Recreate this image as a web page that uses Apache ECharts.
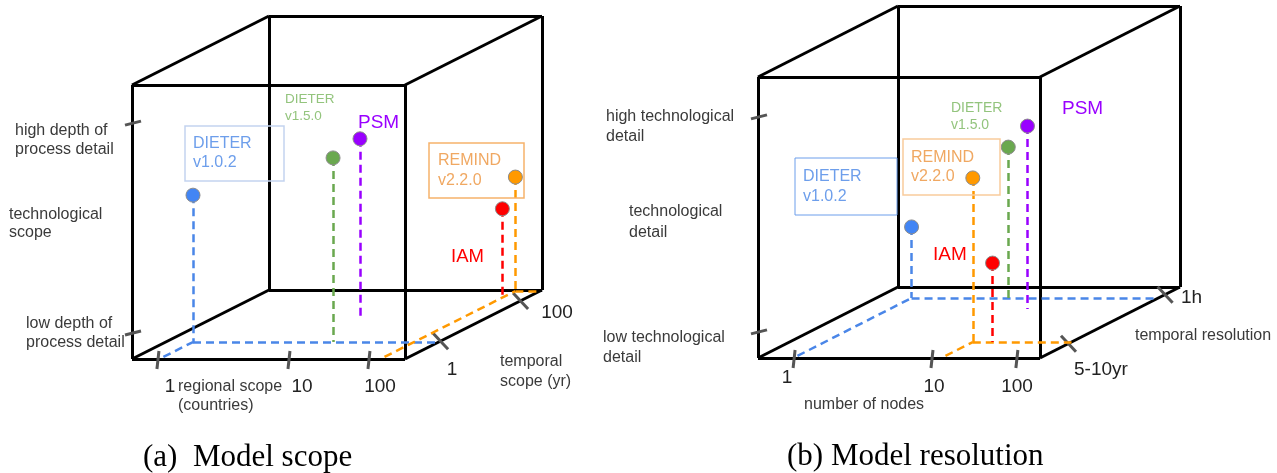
<!DOCTYPE html>
<html><head><meta charset="utf-8">
<script src="https://cdn.jsdelivr.net/npm/echarts@6/dist/echarts.min.js"></script>
<style>html,body{margin:0;padding:0;background:#fff}#c{width:1277px;height:473px}</style>
</head><body><div id="c"></div>
<script>
// ---------------- DATA ----------------
const modelNames = ['DIETER v1.0.2', 'DIETER v1.5.0', 'PSM', 'REMIND v2.2.0', 'IAM'];

// (a) Model scope — positions as fractions of the cube side
const scopeRegional = [0.10, 0.613, 0.529, 0.91, 0.89];   // regional scope (countries)
const scopeTemporal = [0.246, 0.246, 0.61, 0.985, 0.93];  // temporal scope (yr)
const scopeDetail   = [0.536, 0.672, 0.65, 0.416, 0.314]; // depth of process detail
const scopeFloorTrace = [true, false, false, true, false];
const scopeRegionalTickLabels = ['1', '10', '100'];
const scopeRegionalTickPos = [0.095, 0.575, 0.868];
const scopeTemporalTickLabels = ['1', '100'];
const scopeTemporalTickPos = [0.256, 0.84];
const scopeDetailTickPos = [0.095, 0.861];

// (b) Model resolution
const resNodes    = [0.125, 0.468, 0.613, 0.65, 0.72];    // number of nodes
const resTemporal = [0.845, 0.845, 0.69, 0.225, 0.225];   // temporal resolution
const resDetail   = [0.253, 0.537, 0.651, 0.584, 0.281];  // technological detail
const resFloorTrace = [true, false, false, true, false];
const resNodesTickLabels = ['1', '10', '100'];
const resNodesTickPos = [0.128, 0.617, 0.918];
const resTemporalTickLabels = ['5-10yr', '1h'];
const resTemporalTickPos = [0.2, 0.89];
const resDetailTickPos = [0.093, 0.858];

// ---------------- STYLE / LAYOUT ----------------
const dotColors  = ['#4285f4', '#6aa84f', '#9900ff', '#ff9900', '#ff0000'];
const lineColors = ['#4a86e8', '#6aa84f', '#9900ff', '#ff9900', '#ff0000'];
const cubeA = {ox: 132, oy: 359, w: 273, h: 274, dx: 137, dy: 69};
const cubeB = {ox: 758, oy: 358, w: 282, h: 281, dx: 140, dy: 71};
const SANS = 'Liberation Sans, Arial, sans-serif';
const SERIF = 'Liberation Serif, Times New Roman, serif';

function proj(c, x, t, h) { return [c.ox + c.w * x + c.dx * t, c.oy - c.h * h - c.dy * t]; }

function cubeEdges(c) {
  const e = [];
  const P = [[0,0,0],[1,0,0],[1,0,1],[0,0,1],[0,1,0],[1,1,0],[1,1,1],[0,1,1]]; // x,t,h
  const idx = [[0,1],[1,2],[2,3],[3,0],[4,5],[5,6],[6,7],[7,4],[0,4],[1,5],[2,6],[3,7]];
  idx.forEach(([a, b]) => e.push({coords: [proj(c, ...P[a]), proj(c, ...P[b])]}));
  return e;
}
function ticks(c, xPos, tPos, hPos) {
  const out = [];
  xPos.forEach(x => { const p = proj(c, x, 0, 0); out.push({coords: [[p[0] + 1, p[1] - 8], [p[0] - 1, p[1] + 10]]}); });
  tPos.forEach(t => { const p = proj(c, 1, t, 0); out.push({coords: [[p[0] - 7, p[1] - 8], [p[0] + 8, p[1] + 8]]}); });
  hPos.forEach(h => { const p = proj(c, 0, 0, h); out.push({coords: [[p[0] - 7, p[1] + 2], [p[0] + 9, p[1] - 2]]}); });
  return out;
}
function guides(c, xs, ts, hs, floor) {
  const out = [];
  xs.forEach((x, i) => {
    const ls = {color: lineColors[i], width: 2.5, type: [8, 5], opacity: 1};
    out.push({coords: [proj(c, x, ts[i], hs[i]), proj(c, x, ts[i], 0)], lineStyle: ls});
    if (floor[i]) {
      out.push({coords: [proj(c, x, 0.03, 0), proj(c, x, ts[i], 0)], lineStyle: ls});
      out.push({coords: [proj(c, x, ts[i], 0), proj(c, 1, ts[i], 0)], lineStyle: ls});
    }
  });
  return out;
}
function dots(c, xs, ts, hs) {
  return xs.map((x, i) => ({name: modelNames[i], value: proj(c, x, ts[i], hs[i]),
    itemStyle: {color: dotColors[i], borderColor: '#8c8c8c', borderWidth: 1, opacity: 1}}));
}

// ---------------- TEXT ----------------
function txt(text, x, y, size, fill, opt) {
  opt = opt || {};
  return {type: 'text', x: x, y: y, z: 100, silent: true, style: {
    text: text, fontSize: size, fontFamily: opt.family || SANS, fill: fill,
    align: opt.align || 'left', verticalAlign: 'middle', lineHeight: opt.lh || Math.round(size * 1.2)}};
}
function box(x, y, w, h, stroke, lw) {
  return {type: 'rect', z: 99, silent: true, shape: {x: x, y: y, width: w, height: h},
    style: {fill: 'none', stroke: stroke, lineWidth: lw}};
}
const AX = '#3a3a3a', NUM = '#222';
const graphics = [
  // panel (a)
  txt('high depth of\nprocess detail', 15, 140.5, 16, AX, {lh: 19}),
  txt('technological\nscope', 9, 224, 16, AX, {lh: 18}),
  txt('low depth of\nprocess detail', 26, 333.5, 16, AX, {lh: 19}),
  txt(scopeRegionalTickLabels[0], 170, 387, 19, NUM, {align: 'center'}),
  txt(scopeRegionalTickLabels[1], 302, 387, 19, NUM, {align: 'center'}),
  txt(scopeRegionalTickLabels[2], 380, 387, 19, NUM, {align: 'center'}),
  txt('regional scope\n(countries)', 178, 396, 16, AX, {lh: 19}),
  txt(scopeTemporalTickLabels[0], 452, 370, 19, NUM, {align: 'center'}),
  txt(scopeTemporalTickLabels[1], 557, 313, 19, NUM, {align: 'center'}),
  txt('temporal\nscope (yr)', 500, 372, 16, AX, {lh: 20}),
  txt('(a)  Model scope', 143, 458, 31, '#000', {family: SERIF}),
  box(185, 126, 99, 55, '#c3d3ef', 1.5),
  txt('DIETER\nv1.0.2', 193, 153.5, 16, '#6d9eeb', {lh: 19}),
  txt('DIETER\nv1.5.0', 285, 107.5, 13.5, '#93c47d', {lh: 17}),
  txt('PSM', 358, 123, 19, '#9900ff'),
  box(429, 143, 95, 55, '#f6b26b', 1.5),
  txt('REMIND\nv2.2.0', 438, 171, 16, '#f0a862', {lh: 20}),
  txt('IAM', 451, 257, 18.5, '#ff0000'),
  // panel (b)
  txt('high technological\ndetail', 606, 127, 16, AX, {lh: 20}),
  txt('technological\ndetail', 629, 222.5, 16, AX, {lh: 21}),
  txt('low technological\ndetail', 603, 347.5, 16, AX, {lh: 20}),
  txt(resNodesTickLabels[0], 787, 378, 19, NUM, {align: 'center'}),
  txt(resNodesTickLabels[1], 934, 387, 19, NUM, {align: 'center'}),
  txt(resNodesTickLabels[2], 1017, 387, 19, NUM, {align: 'center'}),
  txt('number of nodes', 804, 405, 16, AX),
  txt(resTemporalTickLabels[0], 1074, 370, 19, NUM),
  txt(resTemporalTickLabels[1], 1181, 298, 19, NUM),
  txt('temporal resolution', 1135, 336, 16, AX),
  txt('(b) Model resolution', 787, 457, 31, '#000', {family: SERIF}),
  box(795, 158, 102, 57, '#6d9eeb', 1),
  txt('DIETER\nv1.0.2', 803, 187, 16, '#6d9eeb', {lh: 20}),
  txt('DIETER\nv1.5.0', 951, 116.5, 14, '#93c47d', {lh: 17}),
  txt('PSM', 1062, 109, 19, '#9900ff'),
  box(903, 139, 97, 56, '#f9cb9c', 1.5),
  txt('REMIND\nv2.2.0', 911, 167.5, 16, '#f0a862', {lh: 19}),
  txt('IAM', 933, 255, 19, '#ff0000')
];

// ---------------- CHART ----------------
const chart = echarts.init(document.getElementById('c'));
const lineBase = {type: 'lines', coordinateSystem: 'cartesian2d', silent: true, animation: false};
chart.setOption({
  animation: false,
  backgroundColor: '#fff',
  grid: {left: 0, right: 0, top: 0, bottom: 0},
  xAxis: {type: 'value', min: 0, max: 1277, show: false},
  yAxis: {type: 'value', min: 0, max: 473, inverse: true, show: false},
  graphic: graphics,
  series: [
    Object.assign({}, lineBase, {name: 'cube a', z: 2, lineStyle: {color: '#000', width: 3, opacity: 1},
      data: cubeEdges(cubeA)}),
    Object.assign({}, lineBase, {name: 'cube b', z: 2, lineStyle: {color: '#000', width: 3, opacity: 1},
      data: cubeEdges(cubeB)}),
    Object.assign({}, lineBase, {name: 'ticks a', z: 3, lineStyle: {color: '#555', width: 3, opacity: 1},
      data: ticks(cubeA, scopeRegionalTickPos, scopeTemporalTickPos, scopeDetailTickPos)}),
    Object.assign({}, lineBase, {name: 'ticks b', z: 3, lineStyle: {color: '#555', width: 3, opacity: 1},
      data: ticks(cubeB, resNodesTickPos, resTemporalTickPos, resDetailTickPos)}),
    Object.assign({}, lineBase, {name: 'guides a', z: 4, lineStyle: {opacity: 1, width: 2.5},
      data: guides(cubeA, scopeRegional, scopeTemporal, scopeDetail, scopeFloorTrace)}),
    Object.assign({}, lineBase, {name: 'guides b', z: 4, lineStyle: {opacity: 1, width: 2.5},
      data: guides(cubeB, resNodes, resTemporal, resDetail, resFloorTrace)}),
    {type: 'scatter', name: 'models a', z: 5, symbolSize: 14, silent: true, itemStyle: {opacity: 1},
      data: dots(cubeA, scopeRegional, scopeTemporal, scopeDetail)},
    {type: 'scatter', name: 'models b', z: 5, symbolSize: 14, silent: true, itemStyle: {opacity: 1},
      data: dots(cubeB, resNodes, resTemporal, resDetail)}
  ]
});
</script></body></html>
